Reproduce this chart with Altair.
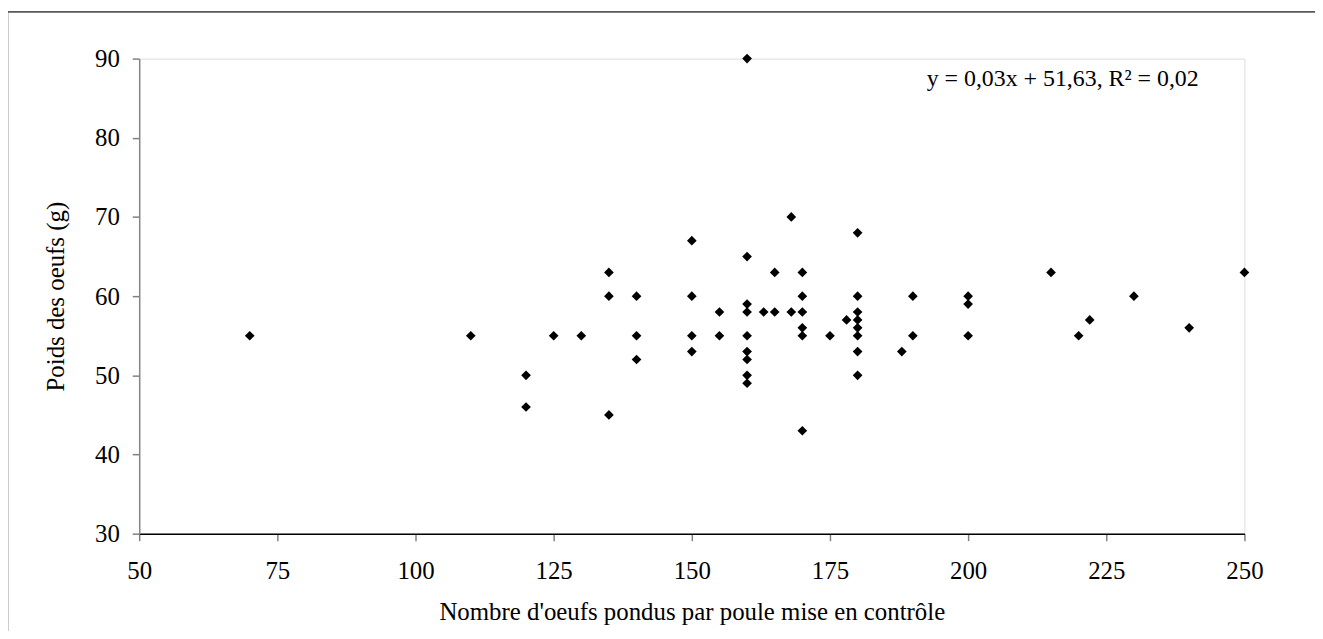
import altair as alt
import pandas as pd

# Nombre d'oeufs pondus par poule mise en contrôle
oeufs = [70, 110, 120, 120, 125, 130, 135, 135, 135, 140, 140, 140,
         150, 150, 150, 150, 155, 155,
         160, 160, 160, 160, 160, 160, 160, 160, 160,
         163, 165, 165, 168, 168,
         170, 170, 170, 170, 170, 170, 175, 178,
         180, 180, 180, 180, 180, 180, 180, 180,
         188, 190, 190, 200, 200, 200, 215, 220, 222, 230, 240, 250]
# Poids des oeufs (g)
poids = [55, 55, 50, 46, 55, 55, 63, 60, 45, 60, 55, 52,
         67, 60, 55, 53, 58, 55,
         90, 65, 59, 58, 55, 53, 52, 50, 49,
         58, 63, 58, 70, 58,
         63, 60, 58, 56, 55, 43, 55, 57,
         68, 60, 58, 57, 56, 55, 53, 50,
         53, 60, 55, 60, 59, 55, 63, 55, 57, 60, 56, 63]

x_ticks = [50, 75, 100, 125, 150, 175, 200, 225, 250]
y_ticks = [30, 40, 50, 60, 70, 80, 90]
equation = ["y = 0,03x + 51,63, R² = 0,02"]
eq_x = [192.5]
eq_y = [87.4]

FONT = "Liberation Serif"

df = pd.DataFrame({"oeufs": oeufs, "poids": poids})
eq_df = pd.DataFrame({"texte": equation, "x": eq_x, "y": eq_y})

xscale = alt.Scale(domain=[50, 250], nice=False, zero=False)
yscale = alt.Scale(domain=[30, 90], nice=False, zero=False)

points = alt.Chart(df).mark_point(
    shape="diamond", filled=True, color="black", size=95, opacity=1
).encode(
    x=alt.X("oeufs:Q", scale=xscale, axis=alt.Axis(
        values=x_ticks, grid=False, title="Nombre d'oeufs pondus par poule mise en contrôle",
        tickSize=7, tickColor="#808080", tickWidth=1.5,
        domainColor="#000000", domainWidth=1.5,
        labelFont=FONT, labelFontSize=25, labelColor="black", labelPadding=18,
        titleFont=FONT, titleFontSize=25, titleFontWeight="normal", titleColor="black",
        titlePadding=16, labelFlush=False)),
    y=alt.Y("poids:Q", scale=yscale, axis=alt.Axis(
        values=y_ticks, grid=False, title="Poids des oeufs (g)",
        tickSize=7, tickColor="#808080", tickWidth=1.5,
        domainColor="#868686", domainWidth=1.5,
        labelFont=FONT, labelFontSize=25, labelColor="black", labelPadding=13,
        titleFont=FONT, titleFontSize=25, titleFontWeight="normal", titleColor="black",
        titlePadding=26, labelFlush=False)),
)

eq_text = alt.Chart(eq_df).mark_text(
    font=FONT, fontSize=24, color="black", align="left", baseline="middle"
).encode(x=alt.X("x:Q", scale=xscale), y=alt.Y("y:Q", scale=yscale), text="texte:N")

frame = alt.Chart(pd.DataFrame({"a": [0]})).mark_rect(
    fill=None, fillOpacity=0, stroke="#595959", strokeWidth=1.6, clip=False
).encode(
    x=alt.value(-132.5), x2=alt.value(1400), y=alt.value(-47), y2=alt.value(700)
)

chart = alt.layer(frame, points, eq_text).properties(
    width=1112, height=478,
    autosize=alt.AutoSizeParams(type="none"),
    padding={"left": 132, "top": 49, "right": 71, "bottom": 96},
).configure_view(stroke=None).configure(background="white")

chart.save("out.html", embed_options={"renderer": "svg", "actions": False})
